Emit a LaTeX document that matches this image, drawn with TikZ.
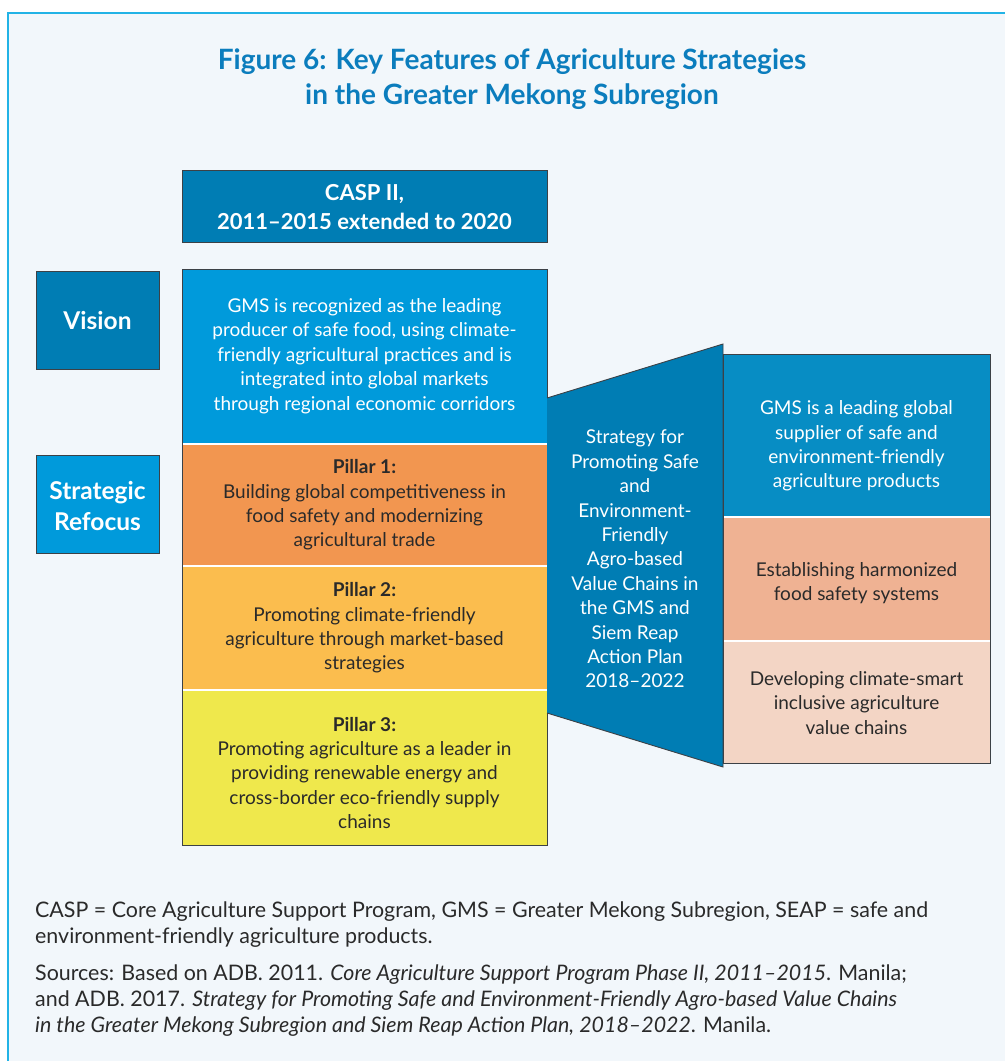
\documentclass[tikz,border=0pt]{standalone}
\usepackage{fontspec}
\setmainfont{Lato}
\definecolor{framecyan}{HTML}{22B3E6}
\definecolor{paper}{HTML}{F2F7FB}
\definecolor{titleblue}{HTML}{0B7DBD}
\definecolor{deepblue}{HTML}{007DB4}
\definecolor{skyblue}{HTML}{009ADB}
\definecolor{midblue}{HTML}{078DC4}
\definecolor{pillarone}{HTML}{F29650}
\definecolor{pillartwo}{HTML}{FBBD4E}
\definecolor{pillarthree}{HTML}{EFE84C}
\definecolor{peach}{HTML}{EFB293}
\definecolor{blush}{HTML}{F3D5C5}
\definecolor{edgegray}{HTML}{3C4146}
\definecolor{inkgray}{HTML}{2A2A2A}
\begin{document}
\begin{tikzpicture}[x=1pt,y=-1pt,
  edge/.style={draw=edgegray,line width=0.9pt},
  split/.style={draw=white,line width=2.2pt},
  bodytxt/.style={align=center,inner sep=0pt,font=\fontsize{19}{24.4}\selectfont},
  headtxt/.style={align=center,inner sep=0pt,text=white,font=\bfseries\fontsize{24.5}{31}\selectfont},
  notetxt/.style={align=left,anchor=base west,inner sep=0pt,text=inkgray,font=\fontsize{21.4}{25.8}\selectfont}]
\useasboundingbox (0,0) rectangle (1005,1061);
% frame
\fill[white] (0,0) rectangle (1005,1061);
\fill[paper] (8,13) rectangle (1005,1061);
\draw[framecyan,line width=2.4pt] (8,1061) -- (8,13) -- (1005,13);
\node[align=center,text=titleblue,font=\bfseries\fontsize{28}{35}\selectfont] (title) at (512,79)
  {Figure 6: Key Features of Agriculture Strategies\\in the Greater Mekong Subregion};
% left labels
\filldraw[edge,fill=deepblue] (36,271) rectangle (159,369);
\node[headtxt] (vision) at (97.5,321) {Vision};
\filldraw[edge,fill=skyblue] (36,455) rectangle (159,553);
\node[headtxt] (refocus) at (97.5,506) {Strategic\\Refocus};
% CASP II column
\filldraw[edge,fill=deepblue] (182,170) rectangle (547,242);
\node[headtxt,font=\bfseries\fontsize{22}{29}\selectfont] (casp) at (364.5,207) {CASP II,\\2011--2015 extended to 2020};
\fill[skyblue] (182,269) rectangle (547,444);
\fill[pillarone] (182,444) rectangle (547,566);
\fill[pillartwo] (182,566) rectangle (547,690);
\fill[pillarthree] (182,690) rectangle (547,845);
\draw[split] (182,444) -- (547,444);
\draw[split] (182,566) -- (547,566);
\draw[split] (182,690) -- (547,690);
\draw[edge] (182,269) rectangle (547,845);
\node[bodytxt,text=white] (goal) at (364.5,356)
  {GMS is recognized as the leading\\producer of safe food, using climate-\\friendly agricultural practices and is\\integrated into global markets\\through regional economic corridors};
\node[bodytxt,text=inkgray] (pillA) at (364.5,505)
  {\textbf{Pillar 1:}\\Building global competitiveness in\\food safety and modernizing\\agricultural trade};
\node[bodytxt,text=inkgray] (pillB) at (364.5,628)
  {\textbf{Pillar 2:}\\Promoting climate-friendly\\agriculture through market-based\\strategies};
\node[bodytxt,text=inkgray] (pillC) at (364.5,773)
  {\textbf{Pillar 3:}\\Promoting agriculture as a leader in\\providing renewable energy and\\cross-border eco-friendly supply\\chains};
% funnel
\fill[deepblue] (547,398) -- (723,344) -- (723,767) -- (547,713) -- cycle;
\draw[edge] (547,398) -- (723,344) -- (723,767) -- (547,713);
\node[bodytxt,text=white] (seap) at (635,559)
  {Strategy for\\Promoting Safe\\and\\Environment-\\Friendly\\Agro-based\\Value Chains in\\the GMS and\\Siem Reap\\Action Plan\\2018--2022};
% SEAP column
\fill[midblue] (723,354) rectangle (990,517);
\fill[peach] (723,517) rectangle (990,641);
\fill[blush] (723,641) rectangle (990,763);
\draw[split] (723,517) -- (990,517);
\draw[split] (723,641) -- (990,641);
\draw[edge] (723,354) rectangle (990,763);
\node[bodytxt,text=white] (seapA) at (856.5,446)
  {GMS is a leading global\\supplier of safe and\\environment-friendly\\agriculture products};
\node[bodytxt,text=inkgray] (seapB) at (856.5,583)
  {Establishing harmonized\\food safety systems};
\node[bodytxt,text=inkgray] (seapC) at (856.5,703)
  {Developing climate-smart\\inclusive agriculture\\value chains};
% notes (base = last line)
\node[notetxt] (abbr) at (35,943)
  {CASP = Core Agriculture Support Program, GMS = Greater Mekong Subregion, SEAP = safe and\\environment-friendly agriculture products.};
\node[notetxt] (sources) at (35,1032)
  {Sources: Based on ADB. 2011. \textit{Core Agriculture Support Program Phase II, 2011--2015}. Manila;\\and ADB. 2017. \textit{Strategy for Promoting Safe and Environment-Friendly Agro-based Value Chains}\\\textit{in the Greater Mekong Subregion and Siem Reap Action Plan, 2018--2022}. Manila.};
\end{tikzpicture}
\end{document}
